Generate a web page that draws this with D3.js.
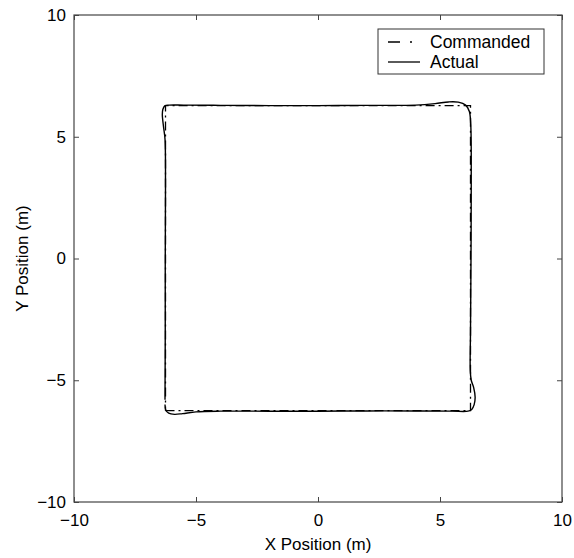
<!DOCTYPE html>
<html>
<head>
<meta charset="utf-8">
<script src="https://cdn.jsdelivr.net/npm/d3@7"></script>
<style>
html, body { margin: 0; padding: 0; background: #fff; overflow: hidden; }
svg { display: block; }
text { font-family: "Liberation Sans", Arial, sans-serif; }
</style>
</head>
<body>
<div class="container"></div>
<script>
var width = 574;
var height = 558;
var margin = {left: 74, right: 12, top: 15, bottom: 56};
var innerWidth = width - margin.left - margin.right;
var innerHeight = height - margin.top - margin.bottom;

var xTicks = [-10, -5, 0, 5, 10];
var yTicks = [-10, -5, 0, 5, 10];
var seriesNames = ['Commanded', 'Actual'];

// commanded square path (x, y in metres)
var commandedX = [-6.25, 6.25, 6.25, -6.25, -6.25];
var commandedY = [-6.25, -6.25, 6.28, 6.28, -6.25];

// actual trajectory
var actualX = [-6.27, -6.24, -6.12, -5.88, -5.55, -5.0, -4.0, -2.0, 0.0, 2.0, 4.0, 5.5, 6.15, 6.3,
    6.4, 6.44, 6.38, 6.28, 6.24, 6.25, 6.27, 6.28, 6.26, 6.2, 6.05, 5.75, 5.35, 4.8, 4.0, 2.0, 0.0,
    -2.0, -4.0, -5.5, -6.1, -6.28, -6.36, -6.38, -6.33, -6.27, -6.25, -6.26, -6.26, -6.27];
var actualY = [-6.0, -6.22, -6.35, -6.4, -6.37, -6.3, -6.27, -6.27, -6.27, -6.26, -6.26, -6.27, -6.27, -6.2,
    -6.0, -5.7, -5.3, -5.0, -4.6, -3.0, 0.0, 3.0, 5.5, 6.05, 6.3, 6.42, 6.43, 6.36, 6.3, 6.29, 6.28,
    6.28, 6.29, 6.3, 6.3, 6.27, 6.12, 5.9, 5.4, 4.9, 3.0, 0.0, -3.0, -5.8];

var XScale = d3.scaleLinear().domain([-10, 10]).range([0, innerWidth]);
var YScale = d3.scaleLinear().domain([-10, 10]).range([innerHeight, 0]);

var translate = function(x, y) {
    return 'translate(' + x + ',' + y + ')';
};

var svg = d3.select('.container').append('svg')
    .attr('width', width)
    .attr('height', height);

var plot = svg.append('g').attr('transform', translate(margin.left, margin.top));

// axes, ticks inward like the original
var styleAxis = function(g) {
    g.select('.domain').remove();
    g.selectAll('line').attr('stroke', '#444');
    g.selectAll('text').attr('font-size', 17).attr('fill', '#000');
};
var noLabels = function(g) {
    g.selectAll('text').remove();
};

plot.append('g')
    .attr('transform', translate(0, innerHeight))
    .call(d3.axisBottom(XScale).tickValues(xTicks).tickSize(-5).tickPadding(12))
    .call(styleAxis);

plot.append('g')
    .call(d3.axisTop(XScale).tickValues(xTicks).tickSize(-5))
    .call(styleAxis)
    .call(noLabels);

plot.append('g')
    .call(d3.axisLeft(YScale).tickValues(yTicks).tickSize(-5).tickPadding(8))
    .call(styleAxis);

plot.append('g')
    .attr('transform', translate(innerWidth, 0))
    .call(d3.axisRight(YScale).tickValues(yTicks).tickSize(-5))
    .call(styleAxis)
    .call(noLabels);

plot.append('rect')
    .attr('width', innerWidth)
    .attr('height', innerHeight)
    .attr('fill', 'none')
    .attr('stroke', '#444')
    .attr('stroke-width', 1.2);

var line = d3.line()
    .x(function(d) { return XScale(d[0]); })
    .y(function(d) { return YScale(d[1]); });

var commanded = d3.zip(commandedX, commandedY);
var actual = d3.zip(actualX, actualY);

plot.append('path')
    .attr('d', line(commanded))
    .attr('fill', 'none')
    .attr('stroke', '#000')
    .attr('stroke-width', 1.3)
    .attr('stroke-dasharray', '9,4,2,4');

plot.append('path')
    .attr('d', line.curve(d3.curveCatmullRom)(actual))
    .attr('fill', 'none')
    .attr('stroke', '#000')
    .attr('stroke-width', 1.4);

// legend
var legend = svg.append('g').attr('transform', translate(378, 29));
legend.append('rect')
    .attr('width', 166)
    .attr('height', 45)
    .attr('fill', '#fff')
    .attr('stroke', '#333')
    .attr('stroke-width', 1);

seriesNames.forEach(function(name, i) {
    var y = 13 + i * 20;
    legend.append('line')
        .attr('x1', 10).attr('x2', 42)
        .attr('y1', y).attr('y2', y)
        .attr('stroke', '#000')
        .attr('stroke-width', 1.3)
        .attr('stroke-dasharray', i === 0 ? '12,10,2,12' : null);
    legend.append('text')
        .attr('x', 52).attr('y', y + 6)
        .attr('font-size', 17.5)
        .text(name);
});

// axis titles
svg.append('text')
    .attr('x', margin.left + innerWidth / 2)
    .attr('y', 550)
    .attr('text-anchor', 'middle')
    .attr('font-size', 17)
    .text('X Position (m)');

svg.append('text')
    .attr('transform', translate(28, margin.top + innerHeight / 2) + ' rotate(-90)')
    .attr('text-anchor', 'middle')
    .attr('font-size', 17)
    .text('Y Position (m)');
</script>
</body>
</html>
